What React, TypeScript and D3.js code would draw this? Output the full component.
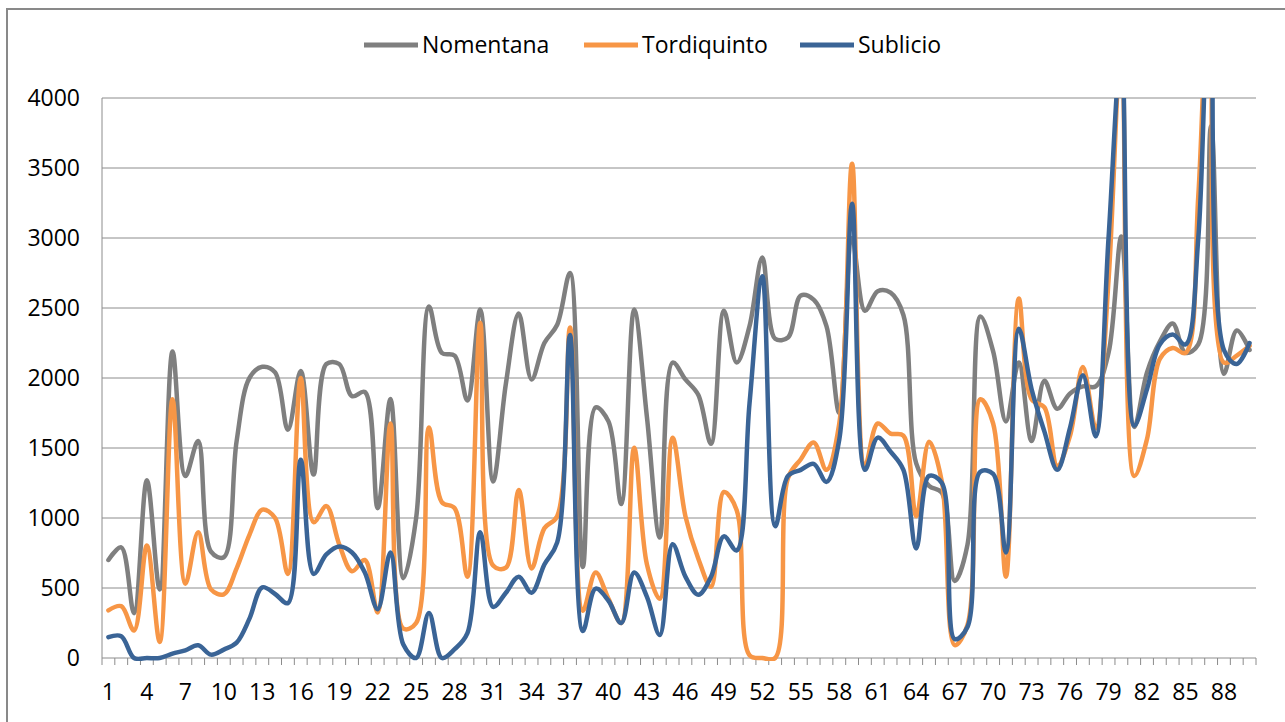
import React, { useMemo } from "react";
import * as d3 from "d3";

const categories: string[] = d3.range(1, 91).map((d) => String(d));

const nomentana: number[] = [
  700, 790, 320, 1270, 490, 2190, 1300, 1550, 760, 720,
  1550, 2000, 2080, 2040, 1630, 2050, 1310, 2100, 2100, 1870,
  1900, 1070, 1850, 570, 1000, 2510, 2180, 2160, 1840, 2490,
  1260, 1960, 2460, 1990, 2250, 2380, 2750, 650, 1790, 1690,
  1100, 2490, 1720, 860, 2110, 1990, 1880, 1530, 2480, 2110,
  2370, 2860, 2280, 2290, 2590, 2560, 2370, 1750, 3000, 2480,
  2620, 2610, 2450, 1390, 1230, 1180, 550, 810, 2440, 2190,
  1690, 2110, 1550, 1980, 1780, 1890, 1940, 1940, 2180, 3010,
  1650, 2040, 2260, 2390, 2180, 2240, 3800, 2030, 2340, 2200,
];

const tordiquinto: number[] = [
  340, 370, 197, 803, 115, 1848, 530, 898, 490, 455,
  640, 880, 1060, 1000, 600, 2000, 970, 1085, 812, 620,
  700, 325, 1675, 210, 250, 1646, 1114, 1070, 580, 2394,
  660, 645, 1200, 640, 927, 1013, 2360, 337, 610, 423,
  250, 1502, 668, 423, 1574, 1013, 711, 509, 1186, 1056,
  20, 0, 0, 1286, 1420, 1540, 1344, 1675, 3530, 1373,
  1675, 1603, 1589, 1013, 1545, 1260, 92, 236, 1848, 1675,
  581, 2567, 1848, 1790, 1373, 1589, 2078, 1640, 2700, 4400,
  1300, 1564, 2136, 2214, 2179, 3300, 5300, 2110, 2160, 2230,
];

const sublicio: number[] = [
  149, 156, 0, 0, 0, 31, 55, 91, 24, 60,
  110, 281, 505, 457, 392, 1416, 601, 740, 797, 754,
  610, 349, 754, 96, 0, 322, 0, 63, 178, 898,
  365, 466, 581, 466, 668, 826, 2308, 193, 495, 409,
  250, 610, 437, 164, 812, 581, 452, 581, 869, 768,
  1819, 2726, 941, 1301, 1344, 1387, 1258, 1560, 3244, 1344,
  1574, 1474, 1344, 783, 1301, 1250, 135, 222, 1330, 1315,
  754, 2351, 1920, 1617, 1344, 1646, 2020, 1583, 3000, 4350,
  1660, 1921, 2240, 2310, 2240, 3000, 5400, 2200, 2100, 2250,
];

const yTicks: number[] = [0, 500, 1000, 1500, 2000, 2500, 3000, 3500, 4000];
const xTickLabels: string[] = categories.filter((_, i) => i % 3 === 0);

const series = [
  { name: "Nomentana", values: nomentana, color: "#7f7f7f" },
  { name: "Tordiquinto", values: tordiquinto, color: "#f79646" },
  { name: "Sublicio", values: sublicio, color: "#3a6496" },
];

const W = 1285;
const H = 722;
const plot = { left: 102, right: 1256, top: 98, bottom: 658 };
const font = "'Open Sans', sans-serif";

const App: React.FC = () => {
  const x = useMemo(
    () => d3.scaleBand<string>().domain(categories).range([plot.left, plot.right]).padding(0),
    []
  );
  const y = useMemo(
    () => d3.scaleLinear().domain([0, 4000]).range([plot.bottom, plot.top]),
    []
  );

  // centripetal catmull-rom keeps the smoothing close to Excel's (little overshoot)
  const line = d3
    .line<number>()
    .x((_, i) => x(categories[i])! + x.bandwidth() / 2)
    .y((d) => y(d))
    .curve(d3.curveCatmullRom.alpha(0.5));

  const boundaries = d3.range(categories.length + 1).map((i) => plot.left + i * x.step());

  // legend layout: line swatch then label
  const legendX = [364, 584, 800];
  const legendY = 45;

  return (
    <svg
      width={W}
      height={H}
      style={{ position: "absolute", left: 0, top: 0, background: "#fff" }}
    >
      <defs>
        <clipPath id="plotClip">
          <rect x={plot.left} y={plot.top} width={plot.right - plot.left} height={plot.bottom - plot.top + 3} />
        </clipPath>
      </defs>

      {/* chart area border */}
      <line x1={6} x2={W} y1={9} y2={9} stroke="#898989" strokeWidth={2} />
      <line x1={7} x2={7} y1={9} y2={H} stroke="#898989" strokeWidth={2} />

      {/* legend */}
      {series.map((s, i) => (
        <g key={s.name} transform={`translate(${legendX[i]},${legendY})`}>
          <line x1={0} x2={54} y1={0} y2={0} stroke={s.color} strokeWidth={5} />
          <text x={58} y={0} dy="0.35em" fontFamily={font} fontSize={23} fill="#000">
            {s.name}
          </text>
        </g>
      ))}

      {/* gridlines */}
      {yTicks.map((t) => (
        <line
          key={t}
          x1={plot.left}
          x2={plot.right}
          y1={y(t)}
          y2={y(t)}
          stroke="#8c8c8c"
          strokeWidth={1}
        />
      ))}

      {/* y axis */}
      <line x1={plot.left} x2={plot.left} y1={plot.top} y2={plot.bottom} stroke="#8c8c8c" strokeWidth={1} />
      {yTicks.map((t) => (
        <text
          key={t}
          x={80}
          y={y(t)}
          dy="0.35em"
          textAnchor="end"
          fontFamily={font}
          fontSize={23}
          fill="#000"
        >
          {t}
        </text>
      ))}

      {/* x axis ticks and labels */}
      {boundaries.map((bx, i) => (
        <line key={i} x1={bx} x2={bx} y1={plot.bottom} y2={plot.bottom + 7} stroke="#8c8c8c" strokeWidth={1} />
      ))}
      {xTickLabels.map((c) => (
        <text
          key={c}
          x={x(c)! + x.bandwidth() / 2}
          y={692}
          dy="0.35em"
          textAnchor="middle"
          fontFamily={font}
          fontSize={23}
          fill="#000"
        >
          {c}
        </text>
      ))}

      {/* series */}
      <g clipPath="url(#plotClip)">
        {series.map((s) => (
          <path
            key={s.name}
            d={line(s.values) || ""}
            fill="none"
            stroke={s.color}
            strokeWidth={4.5}
            strokeLinejoin="round"
            strokeLinecap="round"
          />
        ))}
      </g>
    </svg>
  );
};

export default App;
